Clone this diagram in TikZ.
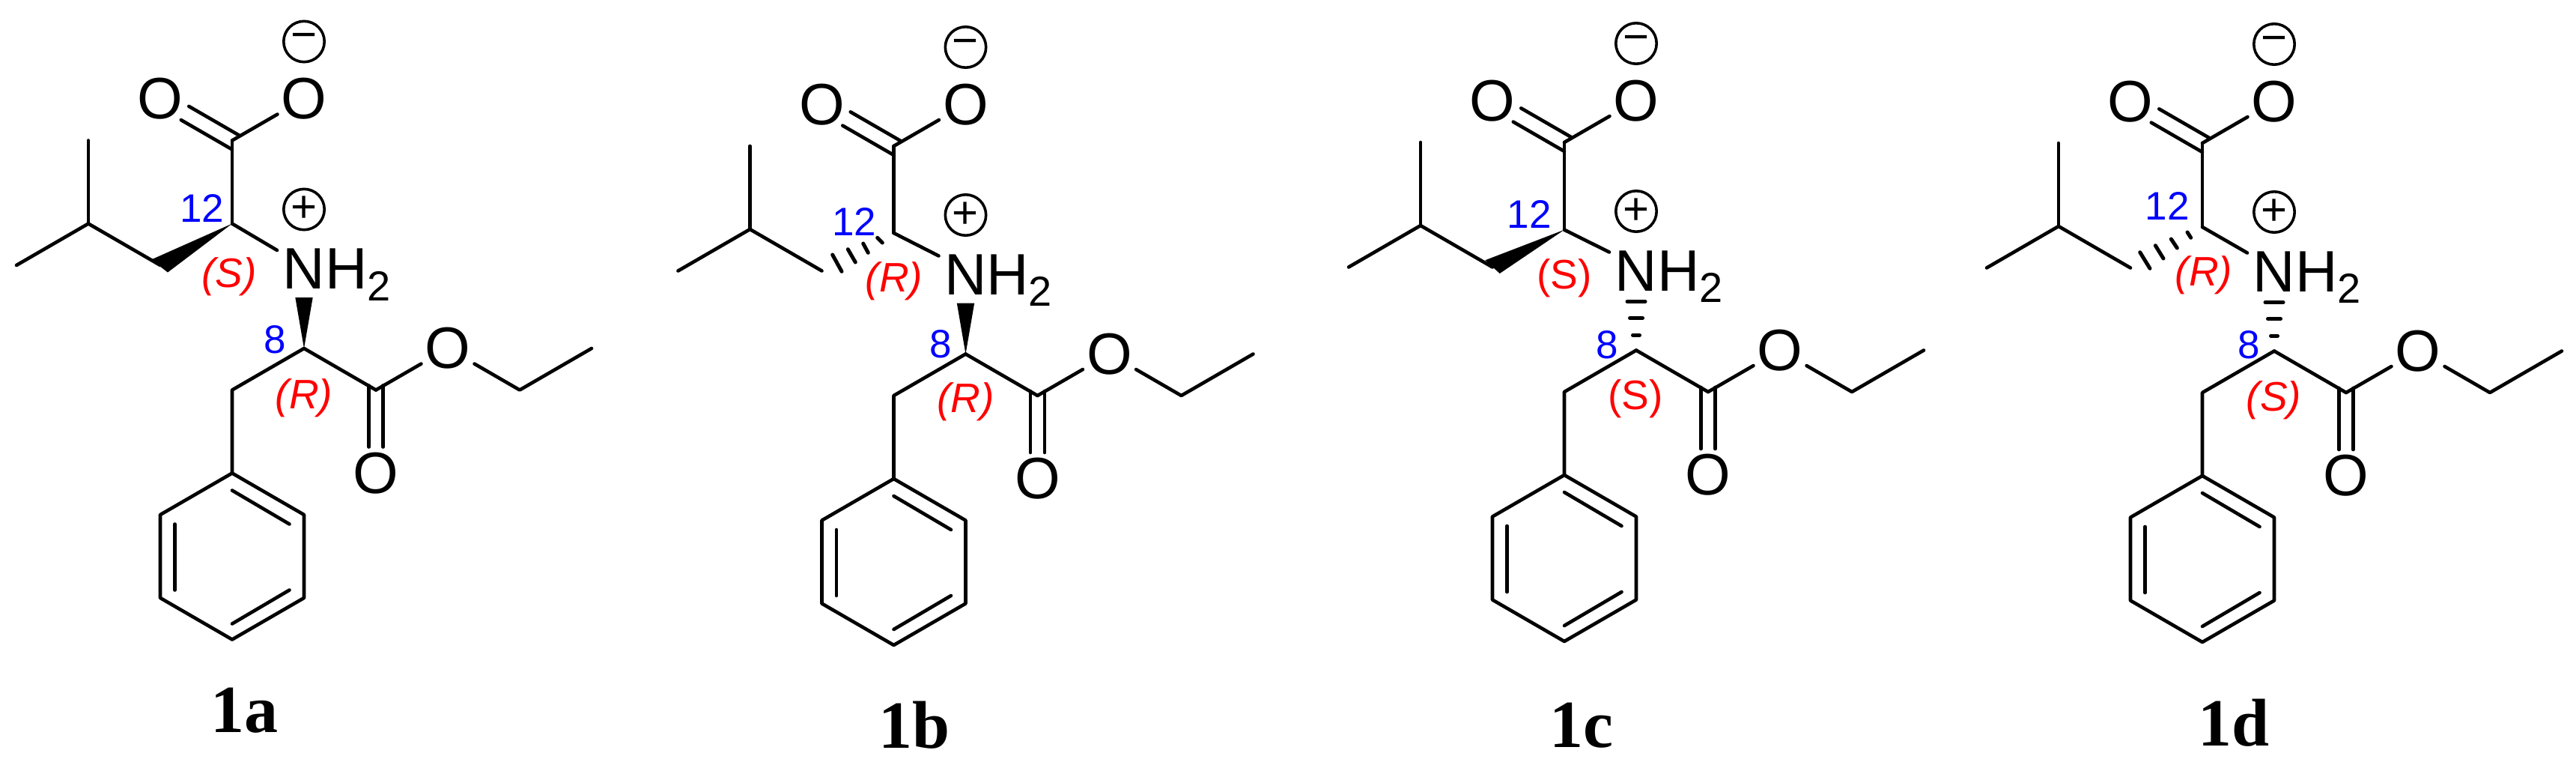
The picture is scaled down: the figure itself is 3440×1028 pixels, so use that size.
\documentclass[tikz,border=0pt]{standalone}
\usepackage{fontspec}
\setmainfont{Liberation Sans}
\newfontfamily\lserif{Liberation Serif}
\definecolor{cipred}{RGB}{255,0,0}
\definecolor{numblue}{RGB}{0,0,255}
\tikzset{
  bond/.style={line width=4.6pt,line cap=round,line join=round},
  hashbar/.style={line width=5pt,line cap=round},
  wedgefill/.style={fill=black,draw=none},
  oatom/.style={circle,inner sep=0pt,minimum size=76pt,font=\fontsize{78}{78}\selectfont},
  natom/.style={anchor=base west,inner sep=0pt,font=\fontsize{78}{78}\selectfont},
  chg/.style={circle,draw,line width=3.6pt,inner sep=0pt,minimum size=54.4pt,font=\fontsize{60}{60}\selectfont},
  numlab/.style={inner sep=0pt,text=numblue,font=\fontsize{53}{53}\selectfont},
  ciplab/.style={inner sep=0pt,text=cipred,font=\fontsize{55}{55}\selectfont\itshape},
  ciplabup/.style={inner sep=0pt,text=cipred,font=\fontsize{55}{55}\selectfont},
  title/.style={anchor=base,inner sep=0pt,font=\fontsize{90}{90}\selectfont\lserif\bfseries}
}
% #1 prefix, #2 x, #3 y, #4 displacement of C12, #5 compound label x (relative), #6 label baseline (relative), #7 text
\newcommand{\skel}[7]{%
\begin{scope}[shift={(#2,-#3)}]
  \coordinate (#1c12) at (0,#4);
  \coordinate (#1cox) at (0,111);
  \coordinate (#1ch2) at (-96,-55.5);
  \coordinate (#1ch) at (-192,0);
  \coordinate (#1me1) at (-192,111);
  \coordinate (#1me2) at (-288,-55.5);
  \coordinate (#1nend) at (60,-35.5);
  \coordinate (#1c8) at (96,-166.5);
  \coordinate (#1bn) at (0,-222);
  \coordinate (#1ip) at (0,-333);
  \coordinate (#1r1) at (-96,-388.5);
  \coordinate (#1r2) at (-96,-499.5);
  \coordinate (#1r3) at (0,-555);
  \coordinate (#1r4) at (96,-499.5);
  \coordinate (#1r5) at (96,-388.5);
  \coordinate (#1i1) at (0,-356);
  \coordinate (#1i2) at (76.5,-401);
  \coordinate (#1i3) at (76.5,-489);
  \coordinate (#1i4) at (0,-534);
  \coordinate (#1i5) at (-76.5,-401);
  \coordinate (#1i6) at (-76.5,-489);
  \coordinate (#1est) at (192,-222);
  \coordinate (#1et1) at (384,-222);
  \coordinate (#1et2) at (480,-166.5);
  \coordinate (#1da1) at (-57.75,156.6);
  \coordinate (#1da2) at (8.8,118.2);
  \coordinate (#1db1) at (-68.25,138.4);
  \coordinate (#1db2) at (0,99);
  \coordinate (#1dc1) at (182.5,-216);
  \coordinate (#1dc2) at (182.5,-298);
  \coordinate (#1dd1) at (201.5,-216);
  \coordinate (#1dd2) at (201.5,-298);
  \node[oatom] (#1oa) at (-96,166.5) {O};
  \node[oatom] (#1ob) at (96,166.5) {O};
  \node[oatom] (#1oc) at (288,-166.5) {O};
  \node[oatom] (#1od) at (192,-333) {O};
  \node[chg] (#1neg) at (96,243) {−};
  \node[chg] (#1pos) at (96,19) {+};
  \node[natom] (#1n) at (67.5,-87) {NH\raisebox{-15.7pt}{\fontsize{56}{56}\selectfont 2}};
  \node[title] (#1lab) at (#5,#6) {#7};
  \draw[bond] (#1da1) -- (#1da2);
  \draw[bond] (#1db1) -- (#1db2);
  \draw[bond] (#1cox) -- (#1ob);
  \draw[bond] (#1cox) -- (#1c12);
  \draw[bond] (#1c12) -- (#1nend);
  \draw[bond] (#1me1) -- (#1ch);
  \draw[bond] (#1me2) -- (#1ch) -- (#1ch2);
  \draw[bond] (#1c8) -- (#1bn) -- (#1ip);
  \draw[bond] (#1c8) -- (#1est);
  \draw[bond] (#1est) -- (#1oc);
  \draw[bond] (#1oc) -- (#1et1) -- (#1et2);
  \draw[bond] (#1dc1) -- (#1dc2);
  \draw[bond] (#1dd1) -- (#1dd2);
  \draw[bond] (#1ip) -- (#1r1) -- (#1r2) -- (#1r3) -- (#1r4) -- (#1r5) -- cycle;
  \draw[bond] (#1i1) -- (#1i2);
  \draw[bond] (#1i3) -- (#1i4);
  \draw[bond] (#1i5) -- (#1i6);
\end{scope}}
% upward wedge C8 -> N
\newcommand{\upwedge}[3]{%
\begin{scope}[shift={(#2,-#3)}]
  \fill[wedgefill] (#1c8) -- (84.3,-98.5) -- (107.7,-98.5) -- cycle;
\end{scope}}
% hashed C8 -> N
\newcommand{\uphash}[3]{%
\begin{scope}[shift={(#2,-#3)}]
  \draw[hashbar] (84,-101.5) -- (108,-101.5);
  \draw[hashbar] (87.5,-123.5) -- (104.5,-123.5);
  \draw[hashbar] (91.5,-146.3) -- (100.5,-146.3);
\end{scope}}
\begin{document}
\begin{tikzpicture}[x=1pt,y=1pt]
\useasboundingbox (0,0) rectangle (3440,-1028);
\fill[white] (0,0) rectangle (3440,-1028);

% 1a
\skel{a}{310}{298.5}{0}{16}{-678.5}{1a}
\upwedge{a}{310}{298.5}
\begin{scope}[shift={(310,-298.5)}]
  \fill[wedgefill] (ac12) -- (-108,-48) -- (-86,-65) -- cycle;
  \node[numlab] (a12) at (-40.5,21) {12};
  \node[numlab] (a8) at (57.5,-154.3) {8};
  \node[ciplab] (as) at (-4,-70.5) {(S)};
  \node[ciplab] (ar) at (96,-232.5) {(R)};
\end{scope}

% 1b
\skel{b}{1193.5}{306}{-5}{27.5}{-692}{1b}
\upwedge{b}{1193.5}{306}
\begin{scope}[shift={(1193.5,-306)}]
  \draw[hashbar] (-21.8,-11.3) -- (-15.2,-18);
  \draw[hashbar] (-40.8,-19) -- (-34.2,-31.3);
  \draw[hashbar] (-61.2,-26.7) -- (-51.2,-44);
  \draw[hashbar] (-81.8,-34) -- (-69.5,-56.3);
  \node[numlab] (b12) at (-53,10) {12};
  \node[numlab] (b8) at (62.5,-153) {8};
  \node[ciplab] (bs) at (0.5,-69.5) {(R)};
  \node[ciplab] (br) at (96,-230) {(R)};
\end{scope}

% 1c
\skel{c}{2089}{301}{-5.7}{22.5}{-696}{1c}
\uphash{c}{2089}{301}
\begin{scope}[shift={(2089,-301)}]
  \fill[wedgefill] (cc12) -- (-105.7,-46.3) -- (-86.3,-64) -- cycle;
  \node[numlab] (c12n) at (-47,15.5) {12};
  \node[numlab] (c8n) at (56.8,-159.3) {8};
  \node[ciplabup] (cs) at (0,-70) {(S)};
  \node[ciplabup] (cr) at (95,-231.5) {(S)};
\end{scope}

% 1d
\skel{d}{2941}{302}{-1}{42}{-693}{1d}
\uphash{d}{2941}{302}
\begin{scope}[shift={(2941,-302)}]
  \draw[hashbar] (-20,-8) -- (-15.3,-15.3);
  \draw[hashbar] (-41.7,-17) -- (-33.7,-29);
  \draw[hashbar] (-62.7,-25.7) -- (-52,-43);
  \draw[hashbar] (-83.3,-34.7) -- (-70,-56.3);
  \node[numlab] (d12) at (-47,27.5) {12};
  \node[numlab] (d8) at (62.3,-158.3) {8};
  \node[ciplab] (ds) at (2,-65.5) {(R)};
  \node[ciplab] (dr) at (95.5,-232) {(S)};
\end{scope}
\end{tikzpicture}
\end{document}
